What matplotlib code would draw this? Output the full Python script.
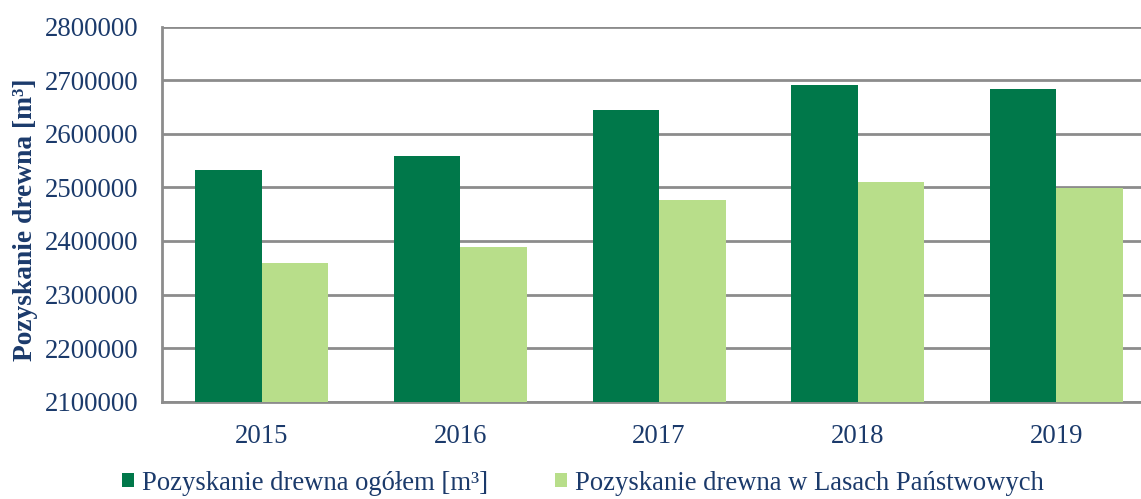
import numpy as np
import matplotlib
matplotlib.use("Agg")
import matplotlib.pyplot as plt

# Timber harvest data, m3
years = ["2015", "2016", "2017", "2018", "2019"]
total = [2532000, 2559000, 2645000, 2692000, 2683000]
state_forests = [2358000, 2389000, 2476000, 2510000, 2499000]
y_ticks = [2100000, 2200000, 2300000, 2400000, 2500000, 2600000, 2700000, 2800000]

text_color = "#1b3a6b"
dark_green = "#00784a"
light_green = "#b8de8a"
grid_color = "#8c8c8c"

plt.rcParams["font.family"] = ["Liberation Serif", "DejaVu Serif"]

fig = plt.figure(figsize=(11.41, 4.99), dpi=100)
ax = fig.add_axes([0.1423, 0.195, 0.8707, 0.7515])

x = np.arange(len(years))
width = 0.335
ax.bar(x - width / 2, total, width, color=dark_green, zorder=3,
       label="Pozyskanie drewna ogółem [m³]")
ax.bar(x + width / 2, state_forests, width, color=light_green, zorder=3,
       label="Pozyskanie drewna w Lasach Państwowych")

ax.set_xlim(-0.5, len(years) - 0.5)
ax.set_ylim(y_ticks[0], y_ticks[-1])
ax.set_yticks(y_ticks)
ax.set_yticklabels([str(v) for v in y_ticks])
ax.set_xticks(x)
ax.set_xticklabels(years)
ax.tick_params(axis="both", length=0, labelsize=19.3, colors=text_color)
ax.tick_params(axis="y", pad=17)
ax.tick_params(axis="x", pad=16)

ax.yaxis.grid(True, color=grid_color, linewidth=2, zorder=0)
for side in ["top", "right"]:
    ax.spines[side].set_visible(False)
for side in ["left", "bottom"]:
    ax.spines[side].set_color(grid_color)
    ax.spines[side].set_linewidth(2)

fig.text(0.022, 0.559, "Pozyskanie drewna [m³]", rotation=90, ha="center",
         va="center", fontsize=19.8, fontweight="bold", color=text_color)

ax.legend(loc="center", bbox_to_anchor=(0.511, 0.032), bbox_transform=fig.transFigure,
          ncol=2, frameon=False, fontsize=19.2, handlelength=0.45, handleheight=0.45,
          handletextpad=0.3, columnspacing=2.5, labelcolor=text_color,
          borderpad=0.1)

fig.savefig("out.png", dpi=100)
